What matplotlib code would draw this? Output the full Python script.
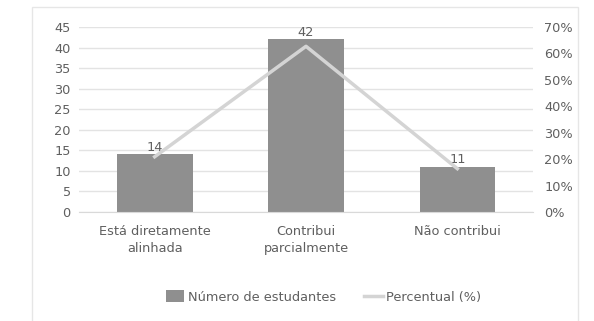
import numpy as np
import matplotlib.pyplot as plt
from matplotlib.patches import Rectangle
from matplotlib.ticker import PercentFormatter

plt.rcParams['font.family'] = ['DejaVu Sans']

# ----- Data -----
categories = ['Está diretamente\nalinhada', 'Contribui\nparcialmente', 'Não contribui']
students = [14, 42, 11]
percent = [20.9, 62.7, 16.4]

text_col = '#5f5f5f'
bar_col = '#8f8f8f'
line_col = '#d4d4d4'
grid_col = '#e3e3e3'
fs = 9.3

fig = plt.figure(figsize=(5.94, 3.21), dpi=100)
fig.patches.append(Rectangle((32/594, -0.01), (578-32)/594, 1 - 7/321 + 0.01,
                             transform=fig.transFigure, fill=False,
                             edgecolor='#e6e6e6', lw=1))

ax = fig.add_axes([79/594, 1 - 212/321, (533-79)/594, (212-27)/321])
x = np.arange(len(categories))
ax.bar(x, students, width=0.5, color=bar_col, zorder=2,
       label='Número de estudantes')
ax.set_ylim(0, 45)
ax.set_yticks(range(0, 46, 5))
ax.set_xlim(-0.5, 2.5)
ax.set_xticks(x)
ax.set_xticklabels([])
# category labels drawn as text so that two-line labels stay centred
for xi, lbl in zip(x, categories):
    ax.text(xi, -0.07, lbl, transform=ax.get_xaxis_transform(), ha='center',
            va='top', multialignment='center', color=text_col, fontsize=fs,
            linespacing=1.45)
ax.grid(axis='y', color=grid_col, lw=1, zorder=0)
ax.set_axisbelow(True)
for s in ['top', 'right', 'left']:
    ax.spines[s].set_visible(False)
ax.spines['bottom'].set_color('#d9d9d9')
ax.tick_params(length=0, colors=text_col, labelsize=fs)
ax.tick_params(axis='y', pad=6)

for xi, v in zip(x, students):
    ax.text(xi, v + 0.2, str(v), ha='center', va='bottom', color=text_col,
            fontsize=fs, zorder=5)

ax2 = ax.twinx()
ax2.plot(x, percent, color=line_col, lw=2.5, zorder=3, label='Percentual (%)')
ax2.set_ylim(0, 70)
ax2.set_yticks(range(0, 71, 10))
ax2.yaxis.set_major_formatter(PercentFormatter(decimals=0))
for s in ['top', 'right', 'left', 'bottom']:
    ax2.spines[s].set_visible(False)
ax2.tick_params(length=0, colors=text_col, labelsize=fs, pad=8)

h1, l1 = ax.get_legend_handles_labels()
h2, l2 = ax2.get_legend_handles_labels()
fig.legend(h1 + h2, l1 + l2, loc='center', bbox_to_anchor=(0.545, 1 - 297/321),
           ncol=2, frameon=False, fontsize=fs, labelcolor=text_col,
           handlelength=1.4, handleheight=1.0, columnspacing=2.2, handletextpad=0.3)

fig.savefig('out.png', dpi=100)
